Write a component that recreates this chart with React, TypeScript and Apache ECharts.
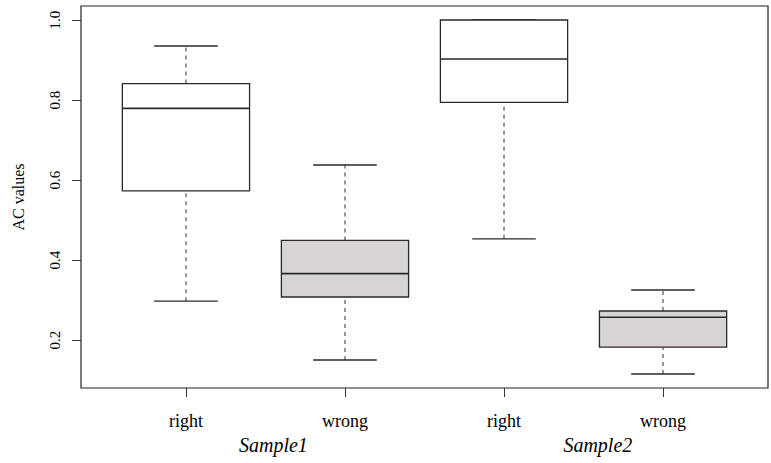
import React, { useEffect, useRef } from "react";
import * as echarts from "echarts";

const categories = ["right", "wrong", "right", "wrong"];
const groupNames = ["Sample1", "Sample2"];
const lowerWhisker = [0.297, 0.15, 0.453, 0.115];
const q1 = [0.573, 0.3075, 0.794, 0.182];
const median = [0.779, 0.366, 0.9025, 0.257];
const q3 = [0.841, 0.449, 1.0, 0.2725];
const upperWhisker = [0.935, 0.6375, 1.0, 0.325];
const yTicks = [0.2, 0.4, 0.6, 0.8, 1.0];

const FONT = "Liberation Serif";
const fills = ["#ffffff", "#d7d3d7", "#ffffff", "#d7d3d7"];

export default function App() {
  const ref = useRef<HTMLDivElement>(null);
  useEffect(() => {
    if (!ref.current) return;
    const chart = echarts.init(ref.current, undefined, { renderer: "svg" });
    const data = categories.map((_, i) => [i + 1, lowerWhisker[i], q1[i], median[i], q3[i], upperWhisker[i], i]);
    const xPos = categories.map((_, i) => i + 1);
    const option: any = {
      animation: false,
      grid: { left: 81, right: 3, top: 6, bottom: 75, show: true, borderColor: "#222", borderWidth: 1.2, backgroundColor: "transparent" },
      xAxis: [
        {
          type: "value",
          min: 0.34,
          max: 4.66,
          splitLine: { show: false },
          axisLine: { show: false },
          axisTick: { show: true, customValues: xPos, length: 9, lineStyle: { color: "#333", width: 1 } },
          axisLabel: {
            customValues: xPos,
            formatter: (v: number) => categories[Math.round(v) - 1] ?? "",
            fontFamily: FONT,
            fontSize: 18,
            color: "#000",
            margin: 24,
          },
        },
        {
          type: "value",
          position: "bottom",
          offset: 26,
          min: 0.34,
          max: 4.66,
          splitLine: { show: false },
          axisLine: { show: false },
          axisTick: { show: false },
          axisLabel: {
            customValues: [1.55, 3.59],
            formatter: (v: number) => (v < 2.5 ? groupNames[0] : groupNames[1]),
            fontFamily: FONT,
            fontStyle: "italic",
            fontSize: 20,
            color: "#000",
            margin: 21,
          },
        },
      ],
      yAxis: {
        type: "value",
        min: 0.08,
        max: 1.035,
        name: "AC values",
        nameLocation: "middle",
        nameRotate: 90,
        nameGap: 55,
        nameTextStyle: { fontFamily: FONT, fontSize: 16, color: "#000" },
        splitLine: { show: false },
        axisLine: { show: false },
        axisTick: { show: true, customValues: yTicks, length: 9, lineStyle: { color: "#333", width: 1 } },
        axisLabel: {
          customValues: yTicks,
          formatter: (v: number) => v.toFixed(1),
          rotate: 90,
          fontFamily: FONT,
          fontSize: 15,
          color: "#000",
          margin: 19,
        },
      },
      series: [
        {
          type: "custom",
          data,
          encode: { x: 0, y: [1, 2, 3, 4, 5] },
          renderItem: (params: any, api: any) => {
            const x = api.value(0);
            const idx = api.value(6);
            const pLow = api.coord([x, api.value(1)]);
            const pQ1 = api.coord([x, api.value(2)]);
            const pMed = api.coord([x, api.value(3)]);
            const pQ3 = api.coord([x, api.value(4)]);
            const pHigh = api.coord([x, api.value(5)]);
            const bw = api.size([0.8, 0])[0];
            const cw = bw * 0.5;
            const cx = pMed[0];
            const solid = { stroke: "#2a2a2a", lineWidth: 1.3, fill: null };
            const dashed = { stroke: "#555", lineWidth: 1.2, lineDash: [4, 4], fill: null };
            return {
              type: "group",
              children: [
                { type: "line", shape: { x1: cx, y1: pQ3[1], x2: cx, y2: pHigh[1] }, style: dashed },
                { type: "line", shape: { x1: cx, y1: pLow[1], x2: cx, y2: pQ1[1] }, style: dashed },
                { type: "line", shape: { x1: cx - cw / 2, y1: pHigh[1], x2: cx + cw / 2, y2: pHigh[1] }, style: solid },
                { type: "line", shape: { x1: cx - cw / 2, y1: pLow[1], x2: cx + cw / 2, y2: pLow[1] }, style: solid },
                {
                  type: "rect",
                  shape: { x: cx - bw / 2, y: pQ3[1], width: bw, height: pQ1[1] - pQ3[1] },
                  style: { fill: fills[idx], stroke: "#2a2a2a", lineWidth: 1.3 },
                },
                { type: "line", shape: { x1: cx - bw / 2, y1: pMed[1], x2: cx + bw / 2, y2: pMed[1] }, style: { stroke: "#2a2a2a", lineWidth: 1.6 } },
              ],
            };
          },
        },
      ],
    };
    chart.setOption(option);
    return () => chart.dispose();
  }, []);
  return <div ref={ref} style={{ width: 771, height: 463, position: "absolute", left: 0, top: 0, background: "#fff" }} />;
}
